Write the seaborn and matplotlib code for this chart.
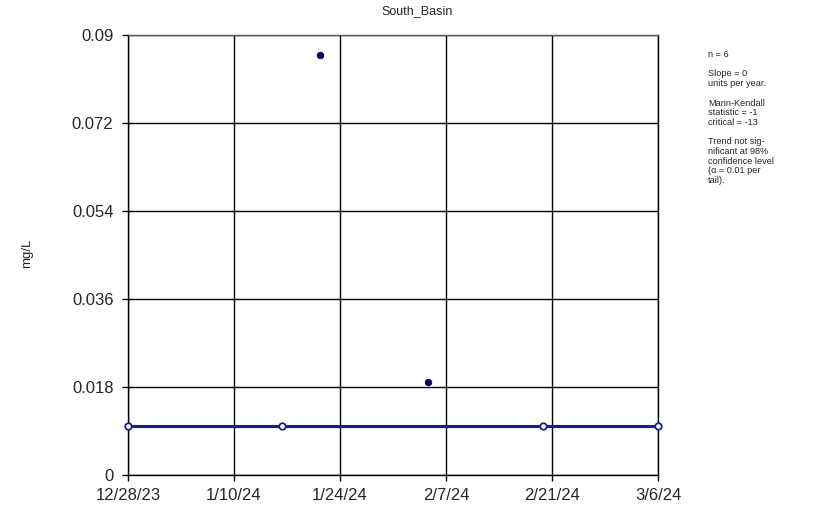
import matplotlib
matplotlib.use("Agg")
import matplotlib.pyplot as plt
import seaborn as sns
import pandas as pd
import numpy as np

# Data
detect_dates = ["2024-01-22", "2024-02-05"]
detect_values = [0.086, 0.019]
nondetect_dates = ["2023-12-28", "2024-01-17", "2024-02-20", "2024-03-06"]
nondetect_values = [0.01, 0.01, 0.01, 0.01]
trend_dates = ["2023-12-28", "2024-03-06"]
trend_values = [0.01, 0.01]
x_tick_labels = ["12/28/23", "1/10/24", "1/24/24", "2/7/24", "2/21/24", "3/6/24"]
y_ticks = [0, 0.018, 0.036, 0.054, 0.072, 0.09]
y_tick_labels = ["0", "0.018", "0.036", "0.054", "0.072", "0.09"]
title = "South_Basin"
ylabel = "mg/L"
stats_text = ("n = 6\n\nSlope = 0\nunits per year.\n\nMann-Kendall\nstatistic = -1\ncritical = -13\n\n"
              "Trend not sig-\nnificant at 98%\nconfidence level\n(\u03b1 = 0.01 per\ntail).")

sns.set_style("white")
plt.rcParams['font.family'] = ['Liberation Sans', 'DejaVu Sans']

start = pd.Timestamp("2023-12-28")
def days(ds):
    return [(pd.Timestamp(d) - start).days for d in ds]

det = pd.DataFrame({"x": days(detect_dates), "y": detect_values})
nd = pd.DataFrame({"x": days(nondetect_dates), "y": nondetect_values})
tr = pd.DataFrame({"x": days(trend_dates), "y": trend_values})

fig = plt.figure(figsize=(8.25, 5.08), dpi=100)
ax = fig.add_axes([128/825, 1-475/508, (658-128)/825, (475-35)/508])

sns.lineplot(data=tr, x="x", y="y", ax=ax, color="#1a1a9c", linewidth=2.2, zorder=3)
sns.scatterplot(data=nd, x="x", y="y", ax=ax, marker="o", s=22, facecolor="white",
                edgecolor="#1a1a9c", linewidth=1.3, zorder=4, clip_on=False)
sns.scatterplot(data=det, x="x", y="y", ax=ax, marker="o", s=22, color="#000066",
                edgecolor="black", linewidth=0.6, zorder=4, clip_on=False)

total = (pd.Timestamp("2024-03-06") - start).days
xt = np.linspace(0, total, len(x_tick_labels))
ax.set_xlim(0, total)
ax.set_ylim(0, 0.09)
ax.set_xticks(xt)
ax.set_xticklabels(x_tick_labels, fontsize=12)
ax.set_yticks(y_ticks)
ax.set_yticklabels(y_tick_labels, fontsize=12)
ax.grid(True, color="black", linewidth=1)
ax.set_axisbelow(True)
ax.tick_params(axis="y", direction="out", length=4.5, width=1, color="black", pad=6,
               left=True)
ax.tick_params(axis="x", direction="out", length=4, width=1, color="black", pad=5,
               bottom=True)
for s in ["top", "right"]:
    ax.spines[s].set_visible(True)
ax.spines["top"].set_color("#555555")
ax.spines["right"].set_color("black")
ax.spines["left"].set_color("black")
ax.spines["bottom"].set_color("black")
for s in ax.spines.values():
    s.set_linewidth(1)
ax.set_xlabel("")
ax.set_ylabel("")

fig.text(417/825, 1-11/508, title, ha="center", va="center", fontsize=9)
fig.text(27/825, 1-253/508, ylabel, ha="center", va="center", rotation=90, fontsize=9.5)
fig.text(708/825, 1-50/508, stats_text, ha="left", va="top", fontsize=6.6, linespacing=1.1)

fig.savefig("out.png", dpi=100)
